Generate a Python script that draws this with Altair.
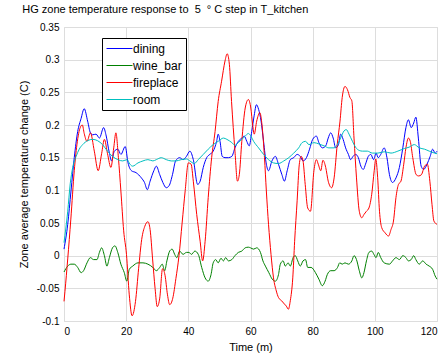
import altair as alt
import pandas as pd

series_names = ["dining", "wine_bar", "fireplace", "room"]
series_colors = ["#0000ff", "#008000", "#ff0000", "#00bfbf"]

dining_t = [0, 1.2, 2.25, 3.3, 4.4, 5.5, 6.5, 7.6, 8.5, 9.2, 10.3, 11.4, 12.75, 13.5, 14.6, 15.3, 16.2, 17.3, 18.3, 19.7,
            20.6, 21.7, 23.2, 24.9, 25.9, 26.8, 27.7, 28.9, 29.7, 30.8, 31.8, 32.9, 33.8, 34.9, 35.9, 37.2, 38.3, 39.4,
            40.5, 41.6, 43, 43.8, 44.8, 45.9, 46.9, 48, 49.1, 49.6, 50.2, 50.9, 51.8, 52.9, 54, 55, 56.1, 57.2, 58, 58.8,
            59.6, 60.4, 61.2, 61.9, 62.6, 63.4, 64.2, 65.1, 65.8, 66.9, 68, 69, 70.1, 70.9, 71.8, 72.8, 73.9, 75, 76,
            76.9, 78, 79, 80, 81.2, 82, 83.1, 84.2, 85, 85.8, 86.6, 87.4, 88.3, 89, 89.8, 90.6, 91.5, 92.2, 93, 93.8,
            94.7, 95.5, 96.3, 97, 97.9, 98.7, 99.6, 100.4, 101.1, 101.9, 103, 103.9, 104.7, 105.7, 106.8, 107.9, 109,
            110, 110.8, 111.7, 112.5, 113.2, 114, 114.9, 115.7, 116.8, 117.8, 118.6, 119.4, 120]
dining_v = [0.01, 0.048, 0.099, 0.15, 0.19, 0.21, 0.225, 0.206, 0.188, 0.185, 0.186, 0.18, 0.196, 0.185, 0.157, 0.145,
            0.16, 0.163, 0.155, 0.167, 0.142, 0.13, 0.127, 0.119, 0.112, 0.101, 0.114, 0.13, 0.137, 0.124, 0.112, 0.104,
            0.107, 0.124, 0.145, 0.15, 0.147, 0.152, 0.16, 0.147, 0.109, 0.114, 0.135, 0.15, 0.155, 0.16, 0.175, 0.186,
            0.175, 0.152, 0.15, 0.15, 0.152, 0.165, 0.175, 0.18, 0.183, 0.175, 0.168, 0.19, 0.215, 0.231, 0.224, 0.206,
            0.175, 0.14, 0.13, 0.145, 0.152, 0.14, 0.124, 0.114, 0.13, 0.147, 0.15, 0.155, 0.152, 0.145, 0.15, 0.163,
            0.178, 0.183, 0.173, 0.165, 0.168, 0.18, 0.188, 0.18, 0.165, 0.17, 0.186, 0.178, 0.165, 0.155, 0.147, 0.152,
            0.155, 0.15, 0.137, 0.132, 0.14, 0.152, 0.155, 0.147, 0.157, 0.15, 0.155, 0.165, 0.15, 0.124, 0.112, 0.119,
            0.135, 0.165, 0.196, 0.208, 0.196, 0.203, 0.212, 0.18, 0.137, 0.132, 0.14, 0.152, 0.163, 0.157, 0.16]

wine_bar_t = [0, 1.2, 2.25, 3.3, 4.4, 5.5, 6.3, 7.4, 8.5, 9.5, 10.6, 11.4, 12.1, 13, 13.8, 14.6, 15.6, 16.4, 17.3, 18.3,
              19.4, 20.2, 21, 22.1, 23.8, 25.4, 27, 28.6, 29.7, 30.8, 31.6, 32.4, 33.1, 34, 34.8, 35.6, 36.3, 37.2, 38.3,
              39.4, 40.2, 41, 42.1, 43.2, 44.3, 45.4, 46.4, 47.3, 48, 48.8, 49.6, 50.5, 51.3, 52, 52.9, 54, 55, 56.1,
              57.2, 58.3, 59.3, 60, 61, 62, 63.2, 64, 64.8, 65.9, 67, 68, 69, 69.6, 70.5, 71.2, 72.1, 72.8, 73.7, 74.4,
              75.2, 76, 76.9, 77.7, 78.4, 79.5, 80.9, 82, 83.1, 84, 84.7, 85.8, 86.9, 88, 88.7, 89.5, 90.4, 91.5, 92.6,
              93.3, 94.1, 95, 95.8, 96.5, 97.3, 98.1, 99, 99.7, 100.4, 101.1, 101.9, 103, 104.7, 105.7, 106.8, 107.9,
              109, 110, 110.8, 111.7, 112.5, 113.2, 114.3, 115.4, 116.5, 117.5, 118.6, 119.4, 120]
wine_bar_v = [-0.025, -0.016, -0.013, -0.013, -0.018, -0.026, -0.023, -0.011, -0.003, -0.006, -0.006, 0.005, 0.012, 0.0,
              -0.016, -0.003, 0.012, 0.015, 0.005, -0.013, -0.026, -0.039, -0.021, -0.016, -0.011, -0.011, -0.013,
              -0.018, -0.023, -0.018, -0.013, -0.023, -0.008, 0.007, 0.01, 0.002, -0.003, 0.007, 0.002, 0.005, 0.005,
              0.002, 0.007, 0.002, -0.018, -0.034, -0.039, -0.029, -0.011, -0.006, -0.011, -0.004, -0.008, -0.003,
              -0.008, -0.006, 0.0, 0.005, 0.007, 0.012, 0.013, 0.012, 0.01, 0.012, 0.005, -0.008, -0.016, -0.026,
              -0.036, -0.039, -0.029, -0.013, -0.008, -0.016, -0.011, -0.016, -0.003, 0.0, -0.008, -0.016, -0.008,
              -0.006, -0.018, -0.018, -0.026, -0.036, -0.046, -0.039, -0.029, -0.023, -0.023, -0.018, -0.011, -0.013,
              -0.011, -0.013, -0.008, 0.0, -0.006, -0.023, -0.034, -0.026, -0.008, 0.005, 0.007, 0.002, -0.003, 0.005,
              -0.003, -0.011, -0.013, -0.008, -0.003, -0.006, 0.0, -0.003, -0.008, -0.006, 0.0, -0.006, -0.013, -0.008,
              -0.013, -0.016, -0.021, -0.031, -0.036]

fireplace_t = [0, 0.3, 1.2, 2.2, 3.3, 4.3, 5.4, 5.9, 6.5, 7.4, 8.5, 9.75, 11, 12.1, 13, 14, 15.1, 16, 16.7, 17.5, 18.3,
               19.2, 20.1, 21, 21.9, 23, 24, 25, 26, 27, 27.7, 28.5, 29.3, 30, 30.8, 31.7, 32.5, 33.3, 34, 35, 36, 37,
               38, 39, 40, 40.9, 41.6, 42.7, 43.8, 44.6, 45.4, 46.4, 47.5, 48.6, 49.6, 50.7, 51.8, 52.5, 53.2, 53.9,
               55, 55.8, 56.4, 57.2, 58.3, 59.3, 60.1, 60.7, 61.2, 62, 63, 63.7, 64.5, 65.1, 65.8, 66.6, 67.4, 68.3, 69,
               70, 70.9, 71.5, 72.2, 72.8, 73.6, 74.2, 75, 75.7, 76.3, 76.9, 77.6, 78.4, 79.3, 80.4, 81.2, 81.8, 82.6,
               83.3, 84.2, 85, 86.1, 86.9, 87.9, 88.8, 89.5, 90.4, 91.2, 92, 92.6, 93.3, 94.1, 95, 95.8, 96.5, 97.3,
               98.1, 99, 99.8, 100.3, 100.9, 101.5, 102.2, 103.3, 104.4, 105.2, 106, 106.8, 107.6, 108.4, 109.3, 110,
               110.8, 111.4, 112.2, 113.3, 114.1, 115, 116, 116.9, 117.7, 118.4, 119, 120]
fireplace_v = [-0.07, -0.055, -0.005, 0.056, 0.13, 0.175, 0.198, 0.2, 0.187, 0.175, 0.188, 0.16, 0.13, 0.156, 0.178,
               0.156, 0.135, 0.165, 0.188, 0.15, 0.099, 0.038, 0.002, -0.06, -0.092, -0.07, -0.02, 0.025, 0.045, 0.052,
               0.04, -0.005, -0.05, -0.078, -0.065, -0.02, -0.03, -0.06, -0.075, -0.065, -0.035, 0.0, 0.05, 0.1, 0.142,
               0.14, 0.114, 0.063, 0.022, -0.008, 0.022, 0.089, 0.15, 0.19, 0.236, 0.267, 0.298, 0.309, 0.293, 0.236,
               0.16, 0.114, 0.124, 0.175, 0.226, 0.239, 0.226, 0.2, 0.186, 0.206, 0.219, 0.2, 0.15, 0.099, 0.048, 0.002,
               -0.034, -0.054, -0.064, -0.069, -0.074, -0.077, -0.082, -0.069, -0.034, 0.022, 0.084, 0.14, 0.152,
               0.145, 0.109, 0.073, 0.068, 0.13, 0.147, 0.14, 0.13, 0.146, 0.135, 0.114, 0.104, 0.119, 0.17, 0.206,
               0.242, 0.259, 0.254, 0.242, 0.237, 0.18, 0.119, 0.068, 0.058, 0.063, 0.068, 0.073, 0.094, 0.13, 0.148,
               0.12, 0.068, 0.043, 0.035, 0.03, 0.04, 0.053, 0.089, 0.109, 0.114, 0.14, 0.165, 0.18, 0.175, 0.15, 0.124,
               0.122, 0.124, 0.137, 0.14, 0.114, 0.078, 0.053, 0.048]

room_t = [0, 1.2, 2, 2.8, 3.9, 4.9, 6, 7.6, 9.2, 10.8, 12.4, 14, 15.6, 17.3, 18.9, 20.3, 21.2, 22.1, 23.8, 25.4, 27,
          28.6, 29.7, 31.3, 32.9, 34.5, 36.1, 37.7, 39.4, 40.5, 41.9, 43.2, 44.8, 46.4, 48, 49.6, 51.3, 52.4, 54, 55,
          56.1, 57.2, 58.3, 59.3, 60, 61, 62.6, 64.2, 65.8, 67.4, 69, 70.7, 72.3, 73.9, 75.5, 76.6, 77.7, 78.8, 80.4,
          82, 83.7, 85.2, 86.9, 87.9, 89, 90.1, 90.8, 91.7, 92.8, 93.8, 95, 96, 97.6, 99.2, 101, 103, 105.2, 107.4,
          109.5, 111, 112.7, 114.3, 116, 117.5, 119.2, 120]
room_v = [0.02, 0.068, 0.11, 0.135, 0.152, 0.163, 0.17, 0.176, 0.178, 0.176, 0.17, 0.16, 0.152, 0.147, 0.145, 0.147,
          0.14, 0.137, 0.142, 0.145, 0.147, 0.145, 0.147, 0.15, 0.147, 0.145, 0.145, 0.147, 0.148, 0.145, 0.141, 0.147,
          0.155, 0.163, 0.17, 0.175, 0.18, 0.178, 0.173, 0.169, 0.173, 0.178, 0.183, 0.187, 0.184, 0.175, 0.165, 0.155,
          0.147, 0.142, 0.141, 0.145, 0.15, 0.157, 0.165, 0.173, 0.175, 0.17, 0.173, 0.171, 0.168, 0.165, 0.165, 0.17,
          0.18, 0.191, 0.193, 0.186, 0.175, 0.166, 0.161, 0.16, 0.16, 0.157, 0.157, 0.159, 0.157, 0.16, 0.164, 0.166,
          0.17, 0.165, 0.163, 0.16, 0.157, 0.156]

x_ticks = [0, 20, 40, 60, 80, 100, 120]
y_ticks = [-0.1, -0.05, 0, 0.05, 0.1, 0.15, 0.2, 0.25, 0.3, 0.35]

frames = []
for name, ts, vs in [("dining", dining_t, dining_v), ("wine_bar", wine_bar_t, wine_bar_v),
                     ("fireplace", fireplace_t, fireplace_v), ("room", room_t, room_v)]:
    frames.append(pd.DataFrame({"t": ts, "v": vs, "series": name}))
df = pd.concat(frames, ignore_index=True)

FONT = "Liberation Sans"

chart = alt.Chart(df).mark_line(strokeWidth=1, interpolate="monotone").encode(
    x=alt.X("t:Q", scale=alt.Scale(domain=[0, 120], nice=False),
            axis=alt.Axis(values=x_ticks, title="Time (m)", grid=True, tickSize=0, labelPadding=5,
                          titlePadding=5, domain=False, titleFontWeight="normal", titleFontSize=11,
                          titleFont=FONT, titleColor="black")),
    y=alt.Y("v:Q", scale=alt.Scale(domain=[-0.1, 0.35], nice=False, zero=False),
            axis=alt.Axis(values=y_ticks, title="Zone average temperature change (C)", grid=True, tickSize=0,
                          labelPadding=5, titlePadding=7, domain=False, titleFontWeight="normal",
                          titleFontSize=11, titleFont=FONT, titleColor="black",
                          labelExpr="datum.value < 0 ? '-' + format(-datum.value, '~g') : format(datum.value, '~g')")),
    color=alt.Color("series:N", scale=alt.Scale(domain=series_names, range=series_colors),
                    legend=alt.Legend(title=None, orient="none", legendX=38, legendY=11,
                                      symbolType="M-1,0H3.33", symbolSize=144, symbolStrokeWidth=1,
                                      symbolOffset=0, labelOffset=14, labelFontSize=12, labelFont=FONT,
                                      labelColor="black", rowPadding=4, padding=4, strokeColor="black",
                                      fillColor="white", cornerRadius=0, labelLimit=300,
                                      labelExpr="datum.label + '\u00a0\u00a0\u00a0\u00a0\u00a0'")),
    order=alt.Order("t:Q"),
).properties(
    width=373, height=294,
    autosize=alt.AutoSizeParams(type="none"),
    padding={"left": 64, "top": 27, "right": 9, "bottom": 37},
    title=alt.TitleParams("HG zone temperature response to\u00a0 5 \u00a0\u00b0 C step in T_kitchen",
                          anchor="start", dx=4, offset=7, fontSize=11, fontWeight="normal", font=FONT,
                          color="black"),
).configure_view(stroke="black", strokeWidth=1).configure_axis(
    labelFont=FONT, titleFont=FONT, labelFontSize=10, titleFontSize=11, titleFontWeight="normal",
    labelColor="black", titleColor="black", gridColor="black", gridOpacity=0.7, gridDash=[1, 3],
    gridWidth=1,
).configure(background="white")

chart.save("out.html", embed_options={"renderer": "svg", "actions": False})
